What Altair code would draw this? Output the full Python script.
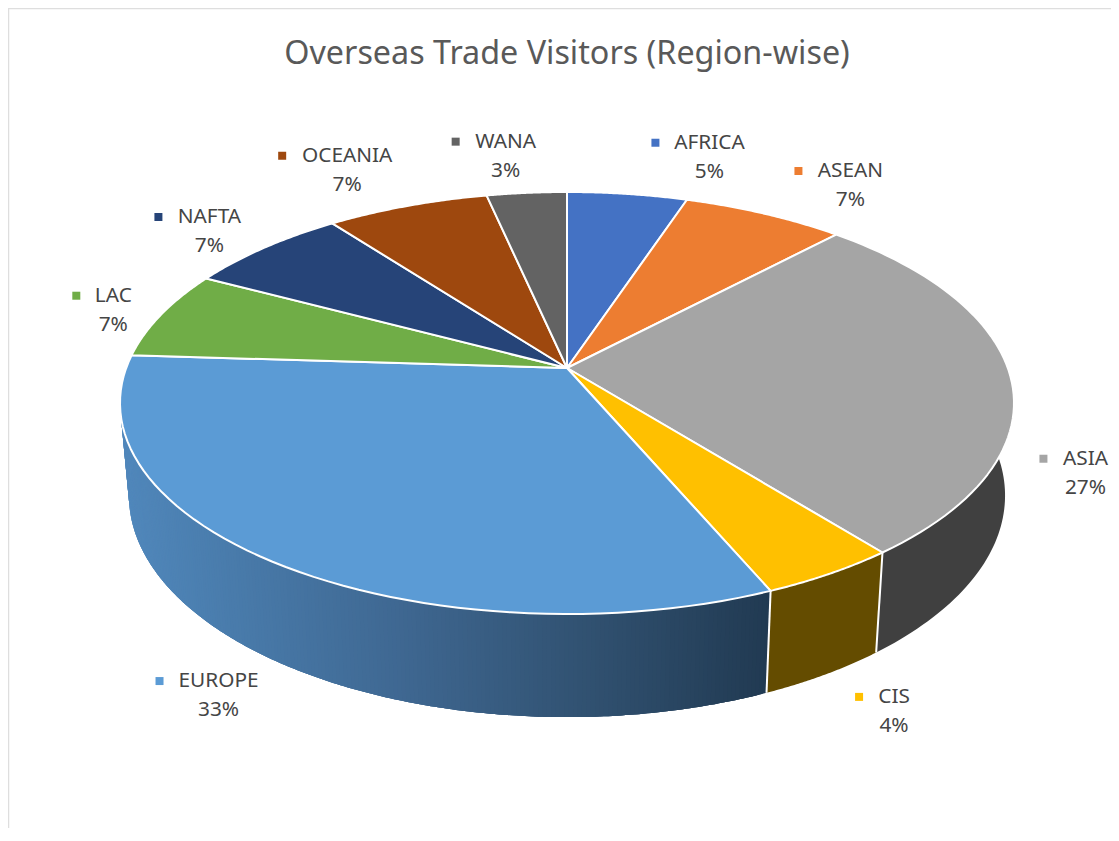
import math
import altair as alt

# ---- values ----
CATEGORIES = ["AFRICA", "ASEAN", "ASIA", "CIS", "EUROPE", "LAC", "NAFTA", "OCEANIA", "WANA"]
SHARES = [5.1, 6.9, 27.3, 4.3, 32.4, 6.8, 6.9, 6.9, 3.4]
PERCENT_LABELS = ["5%", "7%", "27%", "4%", "33%", "7%", "7%", "7%", "3%"]
TITLE = "Overseas Trade Visitors (Region-wise)"

# ---- styles ----
TOP_COLORS = ["#4472c4", "#ed7d31", "#a5a5a5", "#ffc000", "#5b9bd5", "#70ad47", "#264478", "#9e480e", "#636363"]
SIDE_COLORS = {"ASIA": "#404040", "CIS": "#644c00"}
EUROPE_RAMP = [(120, (81, 136, 188)), (200, (75, 127, 176)), (400, (63, 104, 146)),
               (600, (48, 80, 111)), (770, (33, 58, 82))]

# ---- layout: tilted-disc geometry, in page pixels ----
CX, CY = 567.0, 368.0
RX, RY, PERSP = 440.8, 205.2, 0.1659
DEPTH_SX, DEPTH_SY, DEPTH_Y = 0.98, 1.05, 458.8
W, H = 1103, 820
FONT = "Noto Sans"
# label block centre relative to its slice's rim midpoint, and key offset from it
LABEL_OFFSET = {
    "AFRICA": (82, -36.5, -54), "ASEAN": (86, -28, -52), "ASIA": (75, 97, -42),
    "CIS": (64, 138, -35), "EUROPE": (-54, 134, -59), "LAC": (-48, -4, -37),
    "NAFTA": (-55, -16, -51), "OCEANIA": (-60, -35.5, -65), "WANA": (-21, -36.5, -50),
}
LINE_GAP = 14.7


def rim(pct):
    t = pct / 100 * 2 * math.pi
    u, v = math.sin(t), -math.cos(t)
    s = 1 - PERSP * v
    return CX + RX * u / s, CY + RY * v / s


def low(p):
    return CX + DEPTH_SX * (p[0] - CX), DEPTH_Y + DEPTH_SY * (p[1] - CY)


def ramp(x):
    for (x0, c0), (x1, c1) in zip(EUROPE_RAMP, EUROPE_RAMP[1:]):
        if x <= x1:
            f = max(0, (x - x0) / (x1 - x0))
            return "#%02x%02x%02x" % tuple(round(a + (b - a) * f) for a, b in zip(c0, c1))
    return "#213a52"


def pct_range(a, b, n):
    return [a + (b - a) * i / n for i in range(n + 1)]


def wall(ps, col):
    """One closed band of the disc's outer wall along the rim positions ps."""
    upper = [rim(p) for p in ps]
    lower = [low(q) for q in upper]
    ring = upper + lower[::-1] + upper[:1]
    return {"type": "Feature", "properties": {"fill": col},
            "geometry": {"type": "Polygon", "coordinates": [[list(z) for z in ring]]}}


edges = [0.0]
for s in SHARES:
    edges.append(edges[-1] + s)

tops, sides, seps, labels = [], [], [], []
for i, name in enumerate(CATEGORIES):
    a, b = edges[i], edges[i + 1]
    ring = [rim(p) for p in pct_range(a, b, 60)]
    poly = ([(CX, CY)] + ring + [(CX, CY)])[::-1]
    tops.append({"type": "Feature", "properties": {"fill": TOP_COLORS[i]},
                 "geometry": {"type": "Polygon", "coordinates": [[list(q) for q in poly]]}})
    # visible wall: from the right extreme round the front to the left extreme
    va, vb = max(a, 22.0), min(b, 76.0)
    if vb > va:
        if name == "EUROPE":
            ps = pct_range(va, vb, 240)
            for j in range(len(ps) - 1):
                band = ps[j:j + 4]
                sides.append(wall(band, ramp((rim(ps[j])[0] + low(rim(ps[j]))[0]) / 2)))
        else:
            sides.append(wall(pct_range(va, vb, 60), SIDE_COLORS[name]))
    if name in ("ASIA", "CIS"):
        t = rim(b)
        seps.append({"type": "Feature", "properties": {},
                     "geometry": {"type": "LineString", "coordinates": [list(t), list(low(t))]}})
    mx, my = rim((a + b) / 2)
    dx, dy, kx = LABEL_OFFSET[name]
    labels.append({"name": name, "pct": PERCENT_LABELS[i], "color": TOP_COLORS[i],
                   "x": mx + dx, "y_name": my + dy - LINE_GAP, "y_pct": my + dy + LINE_GAP,
                   "kx": mx + dx + kx})

x_scale = alt.Scale(domain=[8, 8 + W], range=[0, W])
y_scale = alt.Scale(domain=[8, 8 + H], range=[0, H])
X = lambda f: alt.X(f, type="quantitative", scale=x_scale, axis=None)
Y = lambda f: alt.Y(f, type="quantitative", scale=y_scale, axis=None)
PROJ = dict(type="identity", scale=1, translate=[-8, -8])

frame_h = alt.Chart(alt.Data(values=[{"a": 8, "b": 8 + W, "c": 8.5}])).mark_rule(
    color="#dedede", strokeWidth=1.5).encode(x=X("a"), x2="b:Q", y=Y("c"))
frame_v = alt.Chart(alt.Data(values=[{"a": 8, "b": 8 + H, "c": 8.5}])).mark_rule(
    color="#dedede", strokeWidth=1.5).encode(y=Y("a"), y2="b:Q", x=X("c"))

side_layer = alt.Chart(alt.Data(values=sides)).mark_geoshape(strokeWidth=0).encode(
    fill=alt.Fill("properties.fill:N", scale=None, legend=None),
).project(**PROJ)
sep_layer = alt.Chart(alt.Data(values=seps)).mark_geoshape(
    filled=False, stroke="white", strokeWidth=2
).project(**PROJ)
top_layer = alt.Chart(alt.Data(values=tops)).mark_geoshape(
    stroke="white", strokeWidth=2, strokeJoin="round"
).encode(fill=alt.Fill("properties.fill:N", scale=None, legend=None)).project(**PROJ)

lab = alt.Data(values=labels)
names = alt.Chart(lab).mark_text(font=FONT, fontSize=20.8, color="#454545", align="center", baseline="middle").encode(
    x=X("x"), y=Y("y_name"), text="name:N")
pcts = alt.Chart(lab).mark_text(font=FONT, fontSize=20.8, color="#454545", align="center", baseline="middle").encode(
    x=X("x"), y=Y("y_pct"), text="pct:N")
keys = alt.Chart(lab).mark_square(size=64, opacity=1).encode(
    x=X("kx"), y=Y("y_name"), fill=alt.Fill("color:N", scale=None, legend=None))
title = alt.Chart(alt.Data(values=[{"t": TITLE, "x": CX, "y": 54}])).mark_text(
    font=FONT, fontSize=32.3, color="#595959", align="center", baseline="middle").encode(
    x=X("x"), y=Y("y"), text="t:N")

chart = alt.layer(frame_h, frame_v, side_layer, sep_layer, top_layer, names, pcts, keys, title).properties(
    width=W, height=H, padding=0, autosize=alt.AutoSizeParams(type="none"), background="white"
).configure_view(stroke=None)

chart.save("out.html", embed_options={"renderer": "svg", "actions": False})
